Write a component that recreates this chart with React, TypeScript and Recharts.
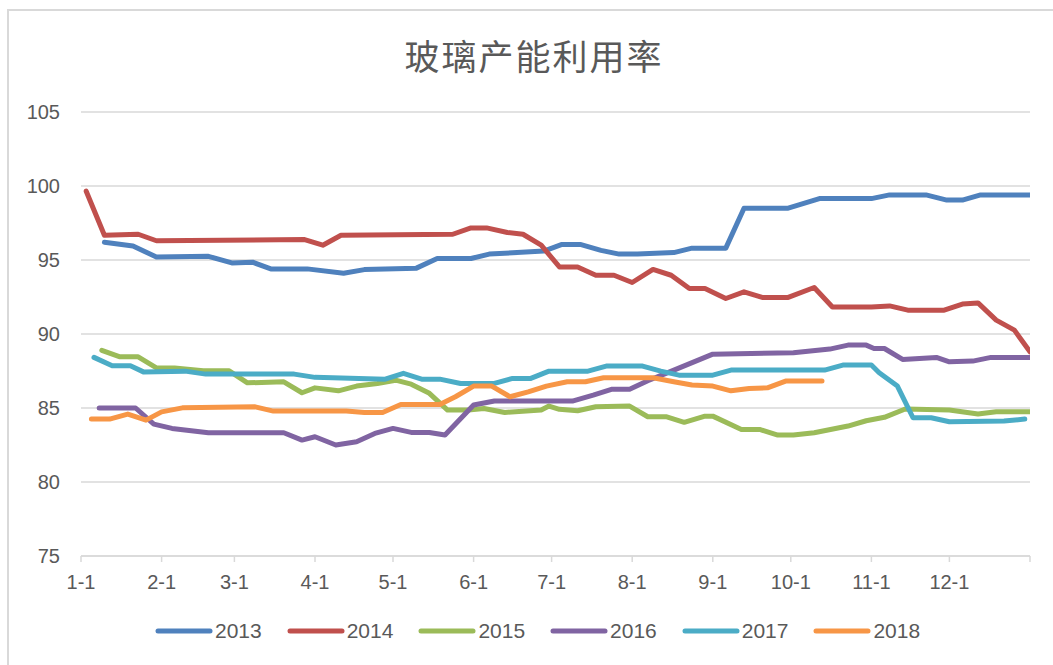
import React from 'react';
import { LineChart, Line, XAxis, YAxis, CartesianGrid, Legend } from 'recharts';

// x positions are day-of-year (0 = Jan 1)
const monthTicks = [0, 31, 59, 90, 120, 151, 181, 212, 243, 273, 304, 334, 365];
const monthLabels = ['1-1', '2-1', '3-1', '4-1', '5-1', '6-1', '7-1', '8-1', '9-1', '10-1', '11-1', '12-1', ''];
const yTicks = [75, 80, 85, 90, 95, 100, 105];

const years = ['2013', '2014', '2015', '2016', '2017', '2018'];
const colors = ['#4F81BD', '#C0504D', '#9BBB59', '#8064A2', '#4BACC6', '#F79646'];

const days2013 = [9, 20, 29, 49, 58, 66, 73, 87, 101, 109, 129, 137, 150, 157, 178, 185, 192, 200, 207, 214, 228, 235, 248, 255, 272, 284, 304, 311, 325, 333, 339, 346, 365];
const vals2013 = [96.2, 95.95, 95.2, 95.25, 94.8, 94.85, 94.4, 94.4, 94.1, 94.35, 94.45, 95.1, 95.1, 95.4, 95.6, 96.05, 96.05, 95.65, 95.4, 95.4, 95.5, 95.8, 95.8, 98.5, 98.5, 99.15, 99.15, 99.4, 99.4, 99.05, 99.05, 99.4, 99.4];

const days2014 = [2, 9, 22, 29, 86, 93, 100, 143, 150, 156, 164, 170, 177, 184, 191, 198, 205, 212, 220, 227, 234, 240, 248, 255, 262, 272, 282, 289, 304, 311, 318, 332, 339, 345, 352, 359, 365];
const vals2014 = [99.65, 96.67, 96.74, 96.3, 96.38, 96.0, 96.67, 96.74, 97.17, 97.17, 96.86, 96.74, 96.0, 94.53, 94.53, 93.97, 93.97, 93.48, 94.36, 93.97, 93.07, 93.07, 92.4, 92.85, 92.47, 92.47, 93.14, 91.83, 91.83, 91.9, 91.61, 91.61, 92.02, 92.1, 90.94, 90.26, 88.79];

const days2015 = [8, 15, 22, 29, 36, 47, 57, 64, 78, 85, 90, 99, 106, 114, 121, 127, 134, 141, 149, 155, 163, 177, 180, 184, 191, 198, 211, 218, 225, 232, 240, 243, 254, 261, 268, 274, 282, 295, 302, 309, 317, 334, 345, 352, 365];
const vals2015 = [88.9, 88.46, 88.46, 87.71, 87.71, 87.51, 87.51, 86.7, 86.77, 86.03, 86.36, 86.16, 86.48, 86.66, 86.88, 86.61, 85.99, 84.86, 84.86, 84.97, 84.7, 84.86, 85.13, 84.91, 84.81, 85.08, 85.13, 84.41, 84.41, 84.03, 84.45, 84.45, 83.55, 83.55, 83.17, 83.17, 83.33, 83.78, 84.14, 84.37, 84.93, 84.86, 84.59, 84.74, 84.74];

const days2016 = [7, 21, 28, 35, 49, 78, 85, 90, 98, 106, 113, 120, 127, 134, 140, 151, 159, 189, 197, 204, 211, 218, 225, 243, 274, 288, 295, 302, 305, 309, 316, 329, 334, 343, 350, 365];
const vals2016 = [85.0, 85.0, 83.91, 83.62, 83.33, 83.33, 82.83, 83.06, 82.5, 82.72, 83.28, 83.62, 83.35, 83.35, 83.17, 85.2, 85.47, 85.47, 85.87, 86.26, 86.26, 86.84, 87.34, 88.64, 88.73, 88.98, 89.25, 89.25, 89.02, 89.02, 88.28, 88.42, 88.12, 88.17, 88.42, 88.42];

const days2017 = [5, 12, 19, 24, 40, 48, 82, 90, 117, 124, 131, 138, 146, 159, 166, 173, 180, 195, 202, 216, 223, 230, 243, 250, 286, 293, 304, 307, 314, 320, 327, 334, 355, 363];
const vals2017 = [88.42, 87.85, 87.85, 87.44, 87.49, 87.29, 87.29, 87.07, 86.95, 87.34, 86.95, 86.95, 86.66, 86.66, 87.0, 87.0, 87.49, 87.49, 87.83, 87.83, 87.49, 87.22, 87.22, 87.56, 87.56, 87.9, 87.9, 87.38, 86.48, 84.34, 84.34, 84.07, 84.12, 84.25];

const days2018 = [4, 11, 18, 25, 31, 39, 67, 74, 102, 109, 116, 123, 138, 144, 151, 158, 165, 172, 179, 187, 194, 201, 220, 228, 235, 243, 250, 257, 264, 271, 285];
const vals2018 = [84.25, 84.25, 84.59, 84.18, 84.74, 85.01, 85.08, 84.79, 84.79, 84.7, 84.7, 85.24, 85.24, 85.76, 86.48, 86.48, 85.76, 86.09, 86.48, 86.77, 86.77, 87.04, 87.04, 86.77, 86.55, 86.48, 86.16, 86.32, 86.36, 86.82, 86.82];

const allDays = [days2013, days2014, days2015, days2016, days2017, days2018];
const allVals = [vals2013, vals2014, vals2015, vals2016, vals2017, vals2018];

const seriesData = allDays.map((ds, i) => ds.map((d, j) => ({ day: d, value: allVals[i][j] })));

const FONT = '"Liberation Sans", Arial, sans-serif';
const TEXT = '#595959';
const GRID = '#D9D9D9';

const LegendContent = () => (
  <div style={{ display: 'flex', alignItems: 'center', height: 30, paddingLeft: 134, fontFamily: FONT, fontSize: 21, color: TEXT }}>
    {years.map((y, i) => (
      <div key={y} style={{ display: 'flex', alignItems: 'center', width: 131.7 }}>
        <svg width={58} height={10} style={{ marginRight: 2 }}>
          <line x1={3} y1={5} x2={55} y2={5} stroke={colors[i]} strokeWidth={5} strokeLinecap="round" />
        </svg>
        <span style={{ lineHeight: '30px' }}>{y}</span>
      </div>
    ))}
  </div>
);

export default function App() {
  return (
    <div style={{ position: 'absolute', left: 0, top: 0, width: 1053, height: 665, overflow: 'hidden', background: '#fff' }}>
      <div style={{ position: 'absolute', left: 7, top: 9, width: 1200, height: 800, border: `2px solid ${GRID}` }} />
      <div style={{ position: 'absolute', left: 0, top: 35, width: 1068, textAlign: 'center', fontFamily: '"Noto Sans CJK SC", sans-serif', fontSize: 35, lineHeight: '40px', letterSpacing: 2, color: TEXT }}>
        玻璃产能利用率
      </div>
      <div style={{ position: 'absolute', left: 0, top: 0 }}>
        <LineChart width={1053} height={665} margin={{ top: 112, right: 23, left: 21, bottom: 19 }}>
          <CartesianGrid horizontal vertical={false} stroke={GRID} strokeWidth={1.5} />
          <XAxis
            type="number"
            dataKey="day"
            domain={[0, 365]}
            ticks={monthTicks}
            tickFormatter={(v: number) => monthLabels[monthTicks.indexOf(v)]}
            interval={0}
            height={60}
            axisLine={{ stroke: GRID, strokeWidth: 1.5 }}
            tickLine={{ stroke: GRID, strokeWidth: 1.5 }}
            tickSize={6}
            tickMargin={13}
            tick={{ fill: TEXT, fontSize: 20, fontFamily: FONT }}
            allowDataOverflow
          />
          <YAxis
            type="number"
            domain={[75, 105]}
            ticks={yTicks}
            width={60}
            axisLine={false}
            tickLine={false}
            tickSize={6}
            tickMargin={15}
            tick={{ fill: TEXT, fontSize: 20, fontFamily: FONT }}
          />
          {years.map((y, i) => (
            <Line
              key={y}
              data={seriesData[i]}
              dataKey="value"
              name={y}
              type="linear"
              stroke={colors[i]}
              strokeWidth={5}
              strokeLinejoin="round"
              strokeLinecap="round"
              dot={false}
              activeDot={false}
              isAnimationActive={false}
            />
          ))}
          <Legend verticalAlign="bottom" align="left" height={30} content={() => <LegendContent />} />
        </LineChart>
      </div>
    </div>
  );
}
